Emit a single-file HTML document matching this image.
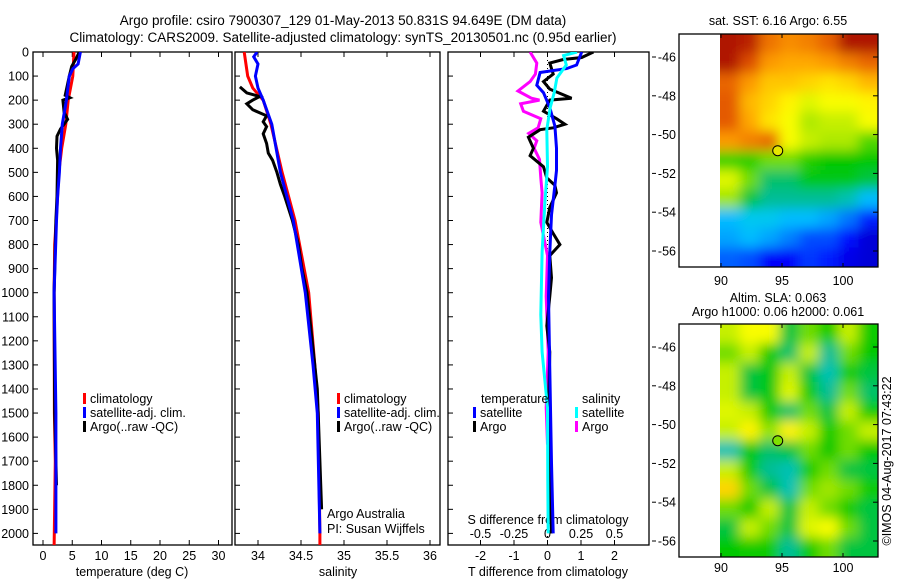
<!DOCTYPE html>
<html><head><meta charset="utf-8"><style>
html,body{margin:0;padding:0;background:#fff}
svg{display:block;font-family:"Liberation Sans",sans-serif}
text{font-size:12.5px;fill:#000}
</style></head><body>
<svg id="s" width="900" height="580" viewBox="0 0 900 580">
<defs>
<clipPath id="c1"><rect x="33" y="52" width="199" height="493"/></clipPath>
<clipPath id="c2"><rect x="235" y="52" width="205" height="493"/></clipPath>
<clipPath id="c3"><rect x="448" y="52" width="201" height="493"/></clipPath>
<filter id="blur" x="-5%" y="-5%" width="110%" height="110%"><feGaussianBlur stdDeviation="6"/></filter>
<clipPath id="m1"><rect x="720" y="34" width="158" height="233"/></clipPath>
<clipPath id="m2"><rect x="720" y="324" width="158" height="233"/></clipPath>
</defs>
<text x="343" y="25" text-anchor="middle" style="font-size:13.5px">Argo profile: csiro 7900307_129 01-May-2013 50.831S 94.649E (DM data)</text>
<text x="343" y="42" text-anchor="middle" style="font-size:13.5px">Climatology: CARS2009. Satellite-adjusted climatology: synTS_20130501.nc (0.95d earlier)</text>
<g id="g"></g>
</svg>
<script>
// ---- data ----
const depthTicks=[0,100,200,300,400,500,600,700,800,900,1000,1100,1200,1300,1400,1500,1600,1700,1800,1900,2000];
const tTicks=[0,5,10,15,20,25,30];
const sTicks=[34,34.5,35,35.5,36];
const sTickLabels=["34","34.5","35","35.5","36"];
const dTTicks=[-2,-1,0,1,2];
const dSTicks=[-0.5,-0.25,0,0.25,0.5];
const dSTickLabels=["-0.5","-0.25","0","0.25","0.5"];
const latTicks=[-46,-48,-50,-52,-54,-56];
const lonTicks=[90,95,100];

const tClimDepth=[0,100,200,300,400,500,600,800,1000,1500,1700,2060];
const tClimVal=[5.3,5.1,4.3,3.9,3.2,2.7,2.5,2.0,1.9,1.95,2.1,1.9];
const tSatDepth=[0,50,70,100,200,300,400,500,600,700,1000,1500,2000];
const tSatVal=[6.4,6.0,5.1,4.5,4.0,3.3,3.0,2.8,2.5,2.3,1.9,2.2,2.2];
const tArgoDepth=[0,30,60,100,180,190,200,250,280,320,350,400,450,600,700,800,900,1000,1500,1800];
const tArgoVal=[6.2,5.6,4.9,4.5,3.8,4.6,3.4,3.6,4.2,3.0,2.4,2.3,2.5,2.4,2.2,2.1,2.0,1.9,2.0,2.3];

const sClimDepth=[0,100,150,200,300,500,700,1000,1300,1500,2000,2060];
const sClimVal=[33.84,33.88,33.94,34.06,34.15,34.28,34.43,34.59,34.66,34.70,34.72,34.72];
const sSatDepth=[0,20,50,100,150,200,300,500,700,1000,1300,1500,2000];
const sSatVal=[33.99,33.95,34.0,33.97,34.0,34.06,34.16,34.26,34.41,34.55,34.64,34.69,34.72];
const sArgoDepth=[145,170,185,200,215,240,265,290,310,340,380,420,450,500,550,600,700,800,900,1000,1200,1400,1500,1900];
const sArgoVal=[33.79,33.87,34.02,33.94,33.87,33.94,34.10,34.06,34.10,34.06,34.10,34.12,34.17,34.22,34.26,34.31,34.40,34.47,34.51,34.57,34.63,34.69,34.70,34.74];

const dTSatDepth=[0,54,69,85,138,169,231,308,400,492,554,677,831,1015,1323,1708,2000];
const dTSatVal=[1.02,0.87,0.57,-0.22,-0.32,-0.12,0.07,0.22,0.27,0.27,0.22,0.12,0.07,0.03,0.07,0.12,0.17];
const dTArgoDepth=[0,23,31,46,92,123,154,192,200,246,277,300,315,323,354,400,431,477,523,554,585,646,708,754,800,846,938,1015,1138,1246,1477,1785,2000];
const dTArgoVal=[1.37,1.02,0.47,0.07,0.17,-0.12,0.07,0.72,0.07,-0.12,0.27,0.52,0.17,-0.22,-0.57,-0.42,-0.52,-0.12,-0.02,0.22,0.27,0.07,-0.02,0.17,0.37,0.07,0.12,0.07,-0.02,0.07,0.03,0.07,0.12];
const dSSatDepth=[0,15,54,108,169,231,323,477,631,831,1092,1246,1477,1785,2000];
const dSSatVal=[0.22,0.12,0.14,0.07,0.05,0.02,-0.005,0,-0.02,-0.04,-0.05,-0.04,0,0.002,0.005];
const dSArgoDepth=[0,46,92,123,162,192,200,215,246,277,315,338,369,400,446,523,585,708,846,1015,1246,1477,1631];
const dSArgoVal=[-0.13,-0.08,-0.09,-0.13,-0.22,-0.12,-0.06,-0.2,-0.18,-0.05,-0.07,-0.14,-0.08,-0.1,-0.06,-0.05,-0.04,-0.05,0,-0.01,0.005,-0.01,0];

const sstGrid=[
[0.97,0.95,0.82,0.78,0.8,0.85,0.97,0.97],
[0.97,0.88,0.76,0.74,0.74,0.76,0.8,0.84],
[0.84,0.76,0.7,0.7,0.68,0.66,0.68,0.72],
[0.86,0.72,0.68,0.64,0.6,0.62,0.62,0.64],
[0.86,0.74,0.66,0.62,0.56,0.58,0.58,0.62],
[0.76,0.8,0.84,0.62,0.58,0.56,0.56,0.5],
[0.48,0.47,0.52,0.52,0.47,0.45,0.45,0.45],
[0.6,0.52,0.4,0.4,0.44,0.44,0.44,0.42],
[0.55,0.42,0.38,0.38,0.38,0.38,0.36,0.3],
[0.3,0.32,0.32,0.3,0.3,0.28,0.24,0.16],
[0.28,0.3,0.28,0.25,0.2,0.2,0.14,0.08],
[0.22,0.2,0.12,0.12,0.18,0.15,0.1,0.08]];
const slaGrid=[
[0.58,0.62,0.62,0.42,0.52,0.46,0.58,0.46],
[0.52,0.58,0.46,0.4,0.58,0.38,0.52,0.45],
[0.58,0.42,0.44,0.58,0.42,0.36,0.46,0.42],
[0.58,0.42,0.44,0.6,0.46,0.38,0.52,0.4],
[0.6,0.58,0.46,0.4,0.52,0.42,0.58,0.46],
[0.58,0.64,0.54,0.64,0.58,0.46,0.52,0.58],
[0.36,0.45,0.4,0.42,0.52,0.45,0.52,0.45],
[0.58,0.46,0.38,0.36,0.46,0.52,0.42,0.42],
[0.68,0.52,0.42,0.36,0.52,0.55,0.52,0.46],
[0.52,0.46,0.58,0.42,0.58,0.52,0.46,0.42],
[0.42,0.58,0.52,0.42,0.6,0.62,0.52,0.42],
[0.45,0.46,0.46,0.38,0.46,0.52,0.42,0.42]];
const argoLon=94.649, argoLat=-50.831;

// ---- scales ----
const NS="http://www.w3.org/2000/svg";
const g=document.getElementById('g');
const yD=d=>52+d*0.2407;
const xT=t=>43+t*5.85;
const xS=s=>258+(s-34)*86;
const xDT=t=>547.5+t*33.5;
const xDS=s=>547.5+s*134;
const xLon=l=>721+(l-90)*12.2;
const yLat1=l=>57+(-46-l)*19.4;
const yLat2=l=>347+(-46-l)*19.4;
function el(tag,a,parent){const e=document.createElementNS(NS,tag);for(const k in a)e.setAttribute(k,a[k]);(parent||g).appendChild(e);return e;}
function txt(x,y,s,anchor,parent){const t=el('text',{x:x,y:y,'text-anchor':anchor||'start'},parent);t.textContent=s;return t;}

const frames=[[33,52,199,493,'temperature-axes'],[235,52,205,493,'salinity-axes'],[448,52,201,493,'difference-axes'],[679,34,199,233,'sst-map-axes'],[679,324,199,233,'sla-map-axes']];
function cmap(v){
  const st=[[0,[0,0,143]],[0.125,[0,0,255]],[0.25,[0,128,255]],[0.31,[0,200,255]],[0.38,[0,190,150]],[0.45,[0,200,0]],[0.55,[160,230,0]],[0.625,[255,255,0]],[0.75,[255,160,0]],[0.875,[224,80,0]],[1,[160,0,0]]];
  for(let i=1;i<st.length;i++){if(v<=st[i][0]){const a=st[i-1],b=st[i],f=(v-a[0])/(b[0]-a[0]);return 'rgb('+a[1].map((x,j)=>Math.round(x+(b[1][j]-x)*f)).join(',')+')';}}
  return 'rgb(160,0,0)';
}
function drawMap(grid,yTop,clip,name){
  const grp=el('g',{'clip-path':'url(#'+clip+')'});
  
  
  const inner=el('g',{filter:'url(#blur)'},grp);
  const cw=158/grid[0].length, ch=233/grid.length;
  grid.forEach((row,r)=>row.forEach((v,c)=>{
    const x0=720+c*cw-(c==0?15:0), y0=yTop+r*ch-(r==0?15:0);
    const w=cw+(c==0?15:0)+(c==row.length-1?15:0)+1, h=ch+(r==0?15:0)+(r==grid.length-1?15:0)+1;
    const rc=el('rect',{x:x0,y:y0,width:w,height:h,fill:cmap(v)},inner);
    
    
  }));
}
drawMap(sstGrid,34,'m1','sst-map-image');
drawMap(slaGrid,324,'m2','sla-map-image');

frames.forEach(f=>{const r=el('rect',{x:f[0],y:f[1],width:f[2],height:f[3],fill:'none',stroke:'#000','stroke-width':1.3});

});

depthTicks.forEach(d=>{
  const t=txt(29,yD(d)+4.5,String(d),'end');
  
  
  [33,235,448].forEach(x0=>el('line',{x1:x0,x2:x0+5,y1:yD(d),y2:yD(d),stroke:'#000'}));
});
function xticks(vals,labels,fx,ylab,name){vals.forEach((v,i)=>{const x=fx(v);
  el('line',{x1:x,x2:x,y1:52,y2:57,stroke:'#000'});el('line',{x1:x,x2:x,y1:545,y2:540,stroke:'#000'});
  const t=txt(x,ylab,labels[i],'middle');
  
  });}
xticks(tTicks,tTicks.map(String),xT,560,'temperature-tick-label');
xticks(sTicks,sTickLabels,xS,560,'salinity-tick-label');
xticks(dTTicks,dTTicks.map(String),xDT,560,'t-diff-tick-label');
dSTicks.forEach((v,i)=>{const t=txt(xDS(v),538,dSTickLabels[i],'middle');
  
  });

[[132,576,'temperature (deg C)','x-axis-title-temperature'],[338,576,'salinity','x-axis-title-salinity'],[548,576,'T difference from climatology','x-axis-title-t-diff'],[548,524,'S difference from climatology','x-axis-title-s-diff']].forEach(a=>{const t=txt(a[0],a[1],a[2],'middle');
  
  });

el('line',{x1:xDT(0),x2:xDT(0),y1:52,y2:545,stroke:'#000','stroke-dasharray':'1,3'});

function line(dep,val,fx,color,clip,name){
  const p=el('polyline',{points:dep.map((d,i)=>fx(val[i]).toFixed(1)+','+yD(d).toFixed(1)).join(' '),fill:'none',stroke:color,'stroke-width':3,'clip-path':'url(#'+clip+')'});
  
  
}
line(tClimDepth,tClimVal,xT,'#f00','c1','temperature-climatology-line');
line(tArgoDepth,tArgoVal,xT,'#000','c1','temperature-argo-line');
line(tSatDepth,tSatVal,xT,'#00f','c1','temperature-satellite-line');
line(sClimDepth,sClimVal,xS,'#f00','c2','salinity-climatology-line');
line(sArgoDepth,sArgoVal,xS,'#000','c2','salinity-argo-line');
line(sSatDepth,sSatVal,xS,'#00f','c2','salinity-satellite-line');
line(dSArgoDepth,dSArgoVal,xDS,'#f0f','c3','s-diff-argo-line');
line(dTArgoDepth,dTArgoVal,xDT,'#000','c3','t-diff-argo-line');
line(dTSatDepth,dTSatVal,xDT,'#00f','c3','t-diff-satellite-line');
line(dSSatDepth,dSSatVal,xDS,'#0ff','c3','s-diff-satellite-line');

function leg(x,y,color,label,name){
  const r=el('rect',{x:x,y:y-10,width:3,height:11,fill:color});
  
  
  const t=txt(x+7,y,label);
  
  
}
leg(83,403,'#f00','climatology','legend-entry-climatology');
leg(83,417,'#00f','satellite-adj. clim.','legend-entry-satellite-adj');
leg(83,431,'#000','Argo(..raw -QC)','legend-entry-argo');
leg(337,403,'#f00','climatology','legend-entry-climatology-sal');
leg(337,417,'#00f','satellite-adj. clim.','legend-entry-satellite-adj-sal');
leg(337,431,'#000','Argo(..raw -QC)','legend-entry-argo-sal');
let h1=txt(481,403,'temperature');
let h2=txt(582,403,'salinity');
leg(473,417,'#00f','satellite','legend-entry-t-satellite');
leg(473,431,'#000','Argo','legend-entry-t-argo');
leg(575,417,'#0ff','satellite','legend-entry-s-satellite');
leg(575,431,'#f0f','Argo','legend-entry-s-argo');
let t1=txt(327,518,'Argo Australia');
let t2=txt(327,533,'PI: Susan Wijffels');

[[yLat1,34,267,285,'sst'],[yLat2,324,557,572,'sla']].forEach(m=>{
  latTicks.forEach(l=>{const y=m[0](l);
    el('line',{x1:878,x2:873,y1:y,y2:y,stroke:'#000'});
    el('line',{x1:652,x2:656,y1:y,y2:y,stroke:'#000'});
    const t=txt(676,y+4.5,String(l),'end');
    
    });
  lonTicks.forEach(l=>{const x=xLon(l);
    el('line',{x1:x,x2:x,y1:m[1],y2:m[1]+4,stroke:'#000'});
    el('line',{x1:x,x2:x,y1:m[2],y2:m[2]-4,stroke:'#000'});
    const t=txt(x,m[3],String(l),'middle');
    
    });
  const c=el('circle',{cx:xLon(argoLon),cy:m[0](argoLat),r:5,fill:m[4]=='sst'?'#e6e600':'#80e000',stroke:'#000','stroke-width':1});
  
  
});
let mt=txt(778,25,'sat. SST: 6.16 Argo: 6.55','middle');
mt=txt(778,302,'Altim. SLA: 0.063','middle');
mt=txt(778,316,'Argo h1000: 0.06 h2000: 0.061','middle');
mt=txt(0,0,'©IMOS 04-Aug-2017 07:43:22','middle');mt.setAttribute('transform','translate(891,461) rotate(-90)');


</script>
</body></html>
